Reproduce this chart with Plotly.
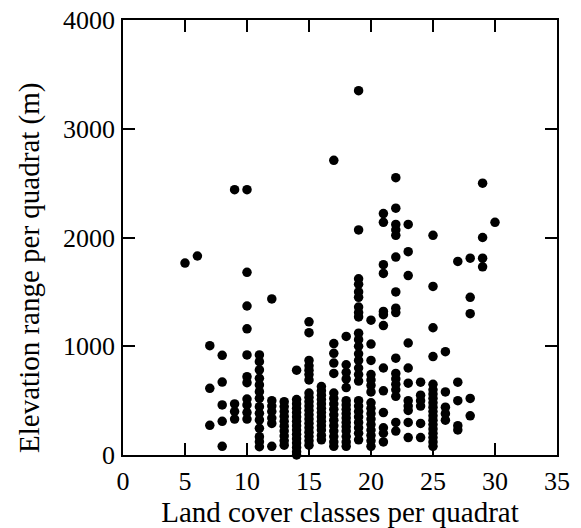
import plotly.graph_objects as go

# Land cover classes per quadrat (x) -> elevation ranges (m) observed at that x
x5 = [1765]
x6 = [1830]
x7 = [1005, 613, 273]
x8 = [917, 671, 460, 310, 80]
x9 = [2440, 470, 400, 330]
x10 = [2440, 1680, 1370, 1160, 920, 720, 665, 515, 460, 390, 330]
x11 = [920, 858, 782, 705, 644, 582, 521, 444, 383, 322, 245, 168, 122, 76]
x12 = [1435, 500, 450, 400, 340, 290, 80]
x13 = [490, 445, 400, 355, 310, 265, 220, 175, 130, 90]
x14 = [780, 510, 470, 430, 390, 350, 310, 270, 230, 190, 150, 110, 70, 30, 0]
x15 = [1225, 1125, 870, 820, 780, 740, 690, 570, 530, 490, 450, 410, 370, 330,
       290, 250, 210, 170, 130, 90]
x16 = [630, 590, 550, 510, 470, 430, 390, 350, 310, 270, 230, 180, 140]
x17 = [2710, 1025, 935, 845, 750, 570, 520, 470, 420, 370, 320, 270, 220, 170, 120, 80]
x18 = [1090, 830, 760, 700, 620, 500, 460, 420, 380, 340, 300, 260, 220, 170, 120, 80]
x19 = [3350, 2070, 1620, 1570, 1500, 1450, 1360, 1310, 1270, 1120, 1060, 1000, 930,
       870, 800, 740, 680, 500, 450, 400, 350, 300, 250, 200, 140]
x20 = [1240, 1020, 870, 740, 690, 640, 580, 480, 430, 380, 330, 280, 230, 180, 130, 80]
x21 = [2220, 2140, 1750, 1670, 1320, 1290, 1190, 800, 590, 390, 250, 200, 120]
x22 = [2550, 2270, 2120, 2070, 2020, 1820, 1500, 1350, 1310, 890, 750, 700, 650,
       600, 540, 300, 220]
x23 = [2120, 1870, 1650, 1030, 800, 660, 500, 450, 410, 300, 160]
x24 = [670, 550, 500, 450, 290, 160]
x25 = [2020, 1550, 1170, 905, 650, 600, 560, 520, 480, 440, 400, 360, 320, 280,
       240, 200, 160, 120, 80]
x26 = [950, 580, 440, 380, 320]
x27 = [1780, 670, 500, 270, 230]
x28 = [1810, 1450, 1300, 520, 360]
x29 = [2500, 2000, 1810, 1730]
x30 = [2140]

columns = {5: x5, 6: x6, 7: x7, 8: x8, 9: x9, 10: x10, 11: x11, 12: x12, 13: x13,
           14: x14, 15: x15, 16: x16, 17: x17, 18: x18, 19: x19, 20: x20, 21: x21,
           22: x22, 23: x23, 24: x24, 25: x25, 26: x26, 27: x27, 28: x28, 29: x29,
           30: x30}

x_ticks = [0, 5, 10, 15, 20, 25, 30, 35]
y_ticks = [0, 1000, 2000, 3000, 4000]

x_title = "Land cover classes per quadrat"
y_title = "Elevation range per quadrat (m)"

xs, ys = [], []
for k, vals in columns.items():
    for v in vals:
        xs.append(k)
        ys.append(v)

fig = go.Figure(go.Scatter(
    x=xs, y=ys, mode="markers",
    marker=dict(color="black", size=9.5, line=dict(width=0)),
    cliponaxis=False, showlegend=False))

font = "Liberation Serif, Times New Roman, serif"
axis_common = dict(
    showline=True, linecolor="black", linewidth=1.5, mirror="ticks",
    ticks="inside", ticklen=12, tickwidth=1.5, tickcolor="black",
    showgrid=False, zeroline=False, automargin=False,
    ticklabeloverflow="allow",
    tickfont=dict(family=font, size=26, color="black"),
)

fig.update_xaxes(range=[0, 35], tickvals=x_ticks, ticktext=[str(t) for t in x_ticks],
                 ticklabelstandoff=2,
                 title=dict(text=x_title,
                            font=dict(family=font, size=29, color="black"), standoff=4),
                 **axis_common)
fig.update_yaxes(range=[0, 4000], tickvals=y_ticks, ticktext=[str(t) for t in y_ticks],
                 ticklabelstandoff=1,
                 **axis_common)

fig.add_annotation(text=y_title, textangle=-90, xref="paper", yref="paper",
                   x=-0.2143, y=0.43, xanchor="center", yanchor="middle",
                   showarrow=False, font=dict(family=font, size=29, color="black"))

# page body has an 8px default margin, so the figure is sized to fit the window
fig.update_layout(width=573, height=520, margin=dict(l=115, r=24, t=12, b=73),
                  plot_bgcolor="white", paper_bgcolor="white")

fig.write_html("out.html")
